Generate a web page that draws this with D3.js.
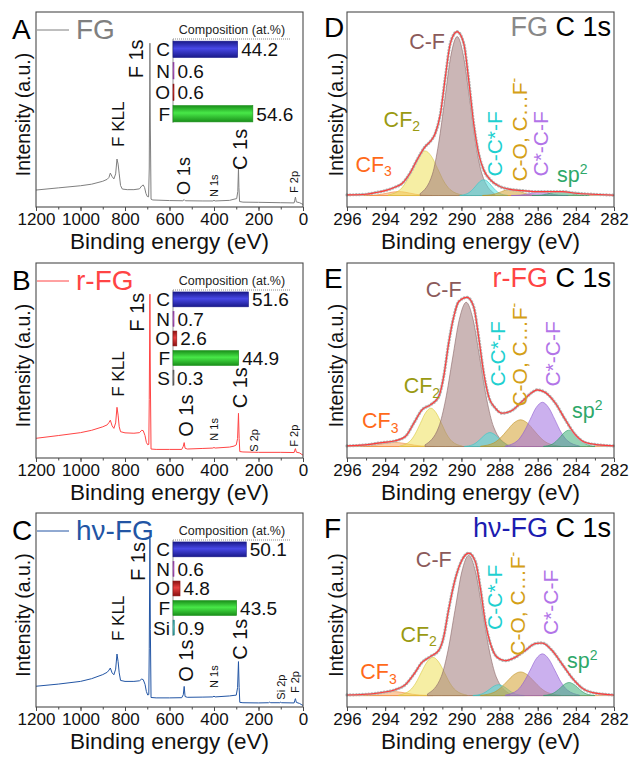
<!DOCTYPE html>
<html>
<head>
<meta charset="utf-8">
<script src="https://cdn.jsdelivr.net/npm/d3@7"></script>
<style>
  body { margin: 0; background: #fff; }
  svg { font-family: "Liberation Sans", Arial, sans-serif; }
</style>
</head>
<body>
<svg width="630" height="762"></svg>
<script>
// ---------- survey spectra: [binding energy eV, intensity a.u.] ----------
const surveyFG = [[1200,8.7],[1100,9.8],[1000,10.9],[950,11.7],[900,13.2],[880,14.2],[872,15.2],[866,17.4],[858,15.6],[850,14.4],[842,17],[836,24.6],[831,22],[826,17],[820,11],[812,9.2],[790,8.9],[760,8.9],[735,9.3],[725,10.8],[718,11.3],[712,10],[706,7],[700,5.4],[694,5.2],[691,20],[688,84],[686,40],[683,4],[675,3.6],[600,3.3],[540,3.2],[534,3.8],[529,3.2],[450,3.1],[405,3.1],[400,3.4],[395,3.1],[330,3.4],[310,4],[298,4.3],[293,8],[290,19.8],[288,10],[285,2.8],[270,2.5],[200,2.4],[100,2.2],[40,2.1],[37,3.5],[34,5.1],[30,2.6],[15,2.2],[5,1.6],[0,1.3]];
const surveyRFG = [[1200,10.1],[1100,11.5],[1000,13],[950,14.2],[900,16],[880,17],[872,18.2],[866,19.4],[858,16.5],[850,15.2],[842,18],[836,26],[831,22],[826,16],[820,13.5],[800,12.9],[760,12.7],[735,13],[725,14.2],[718,14],[710,11.5],[704,8],[698,6.8],[693,7],[691,30],[688,84],[686,40],[683,4.6],[660,4.4],[600,4.4],[545,4.4],[538,6],[534,7.9],[530,5],[520,4.6],[450,4.9],[405,5.1],[400,5.4],[395,5.1],[330,5.6],[310,6.1],[300,6.7],[294,10],[290,22.9],[287,10],[284,3.3],[270,3.1],[200,2.9],[100,2.9],[40,2.8],[37,4],[34,4.8],[30,3],[15,2.6],[5,1.8],[0,1.5]];
const surveyHvFG = [[1200,10.7],[1100,11.8],[1000,13.2],[950,14.6],[900,16.7],[880,17.9],[872,19],[866,20.1],[858,17.6],[850,16.6],[842,19.5],[836,27.3],[831,23.4],[826,17.6],[820,13.7],[800,13.2],[760,13.2],[735,13.5],[725,14.4],[718,14.1],[710,11.7],[704,8],[698,6.2],[693,6.4],[691,30],[688,87],[686,40],[683,4.9],[660,4.7],[600,4.7],[545,4.8],[538,6.3],[534,10.6],[530,5.4],[520,5],[450,5.1],[405,5.2],[400,5.6],[395,5.2],[330,5.7],[310,6],[300,6.1],[294,10],[290,23.4],[287,10],[284,2.4],[270,2.2],[200,2.1],[155,2.2],[150,2.5],[145,2.2],[104,2.2],[100,2.5],[96,2.2],[40,2.1],[37,3.4],[34,4.3],[30,2.4],[15,1.8],[5,1.1],[0,0.8]];

// ---------- composition insets (at.%) ----------
const elemFG = ["C", "N", "O", "F"];
const compFG = [44.2, 0.6, 0.6, 54.6];
const elemRFG = ["C", "N", "O", "F", "S"];
const compRFG = [51.6, 0.7, 2.6, 44.9, 0.3];
const elemHvFG = ["C", "N", "O", "F", "Si"];
const compHvFG = [50.1, 0.6, 4.8, 43.5, 0.9];

// ---------- survey peak annotations: [text, eV, intensity] ----------
const annFG = [["F KLL",805,30.8],["F 1s",719,66],["O 1s",508,6.2],["N 1s",382,5.1],["C 1s",252,19],["F 2p",22,7.2]];
const annRFG = [["F KLL",805,31.4],["F 1s",715,64.8],["O 1s",496,10.9],["N 1s",382,8.9],["C 1s",253,25.5],["S 2p",202,3.2],["F 2p",22,5.8]];
const annHvFG = [["F KLL",805,34],["F 1s",710,65],["O 1s",496,13],["N 1s",382,9.8],["C 1s",253,24.3],["Si 2p",81,3.8],["F 2p",18,7.2]];

// ---------- C 1s high resolution: envelope and fitted components ----------
const envFG = [[296,0.4],[295,0.8],[294.5,1.8],[294,3],[293.5,5],[293.1,7.5],[292.7,13.6],[292.33,21.7],[291.9,29.9],[291.63,33],[291.37,38],[291.1,50],[290.84,72.6],[290.58,92.9],[290.23,100],[289.88,92.9],[289.62,70.5],[289.36,44],[289.1,25.8],[288.83,15.6],[288.48,9.6],[288.05,5.9],[287.52,3.9],[286.82,3],[286.12,2.4],[285.42,2.4],[284.72,2.4],[284,1.4],[283.15,0.8],[282,0.2]];
const envRFG = [[296,0.4],[295.04,1],[294.16,2.4],[293.47,3.5],[292.94,6.1],[292.5,14.2],[292.07,22.4],[291.63,25.4],[291.19,30.5],[290.93,42.7],[290.67,63],[290.4,79.3],[290.14,88.5],[289.7,91],[289.36,85.4],[289.1,67],[288.83,44.7],[288.57,30.5],[288.22,23.4],[287.87,20.3],[287.35,22],[286.82,27.5],[286.3,33],[286.03,34.6],[285.6,33],[285.07,26.4],[284.55,16.3],[284.02,7.1],[283.5,2.4],[282.8,1],[282,0.4]];
const envHvFG = [[296,0.4],[295.04,0.8],[294.16,1.9],[293.47,3.6],[292.94,6.7],[292.5,13],[292.07,20.3],[291.63,23.9],[291.19,27.7],[290.93,36],[290.67,52.8],[290.32,71.7],[289.97,83.2],[289.62,87.4],[289.27,82.2],[289.0,65.4],[288.74,44.4],[288.48,31.9],[288.13,23.5],[287.7,21.4],[287.17,23.5],[286.65,27.7],[286.12,31.9],[285.77,32.3],[285.25,27.7],[284.72,19.3],[284.2,10.9],[283.67,4.6],[282.98,1.5],[282,0.4]];

// component order: CF3, CF2, C-F, C-C*-F, C-O/C...F, C*-C-F, sp2
const fitFG = [
  [[295.1,0.03],[294.5,0.32],[294.2,0.78],[293.9,1.46],[293.6,2.12],[293.3,2.4],[293.0,2.12],[292.7,1.46],[292.4,0.78],[292.1,0.32],[291.5,0.03]],
  [[293.85,0.3],[293.2,3.7],[292.88,8.8],[292.55,16.5],[292.23,24],[291.9,27.2],[291.58,24],[291.25,16.5],[290.93,8.8],[290.6,3.7],[289.95,0.3]],
  [[292.17,1.1],[291.52,13.1],[291.2,31.5],[290.87,58.9],[290.55,85.6],[290.22,97],[289.9,85.6],[289.57,58.9],[289.25,31.5],[288.92,13.1],[288.27,1.1]],
  [[290.09,0.1],[289.67,1.3],[289.46,3.1],[289.25,5.8],[289.04,8.5],[288.83,9.6],[288.62,8.5],[288.41,5.8],[288.2,3.1],[287.99,1.3],[287.57,0.1]],
  [[288.9,0.04],[288.4,0.53],[288.15,1.27],[287.9,2.37],[287.65,3.44],[287.4,3.9],[287.15,3.44],[286.9,2.37],[286.65,1.27],[286.4,0.53],[285.9,0.04]],
  [[287.4,0.02],[286.9,0.27],[286.65,0.65],[286.4,1.21],[286.15,1.76],[285.9,2],[285.65,1.76],[285.4,1.21],[285.15,0.65],[284.9,0.27],[284.4,0.02]],
  [[286.3,0.03],[285.8,0.32],[285.55,0.78],[285.3,1.46],[285.05,2.12],[284.8,2.4],[284.55,2.12],[284.3,1.46],[284.05,0.78],[283.8,0.32],[283.3,0.03]]
];
const fitRFG = [
  [[295.6,0.03],[294.9,0.34],[294.55,0.81],[294.2,1.52],[293.85,2.2],[293.5,2.5],[293.15,2.2],[292.8,1.52],[292.45,0.81],[292.1,0.34],[291.4,0.03]],
  [[293.25,0.26],[292.7,3.2],[292.43,7.6],[292.15,14.2],[291.88,20.6],[291.6,23.4],[291.33,20.6],[291.05,14.2],[290.78,7.6],[290.5,3.2],[289.95,0.26]],
  [[291.91,1],[291.19,11.9],[290.83,28.6],[290.47,53.4],[290.11,77.6],[289.75,88],[289.39,77.6],[289.03,53.4],[288.67,28.6],[288.31,11.9],[287.59,1]],
  [[289.85,0.09],[289.4,1.15],[289.18,2.76],[288.95,5.16],[288.73,7.5],[288.5,8.5],[288.28,7.5],[288.05,5.16],[287.83,2.76],[287.6,1.15],[287.15,0.09]],
  [[289.0,0.18],[288.3,2.2],[287.95,5.3],[287.6,9.9],[287.25,14.4],[286.9,16.3],[286.55,14.4],[286.2,9.9],[285.85,5.3],[285.5,2.2],[284.8,0.18]],
  [[287.7,0.3],[287.05,3.65],[286.73,8.8],[286.4,16.4],[286.08,23.8],[285.75,27],[285.43,23.8],[285.1,16.4],[284.78,8.8],[284.45,3.65],[283.8,0.3]],
  [[285.7,0.11],[285.25,1.35],[285.03,3.25],[284.8,6.07],[284.58,8.82],[284.35,10],[284.13,8.82],[283.9,6.07],[283.68,3.25],[283.45,1.35],[283.0,0.11]]
];
const fitHvFG = [
  [[295.7,0.03],[295.0,0.34],[294.65,0.81],[294.3,1.52],[293.95,2.2],[293.6,2.5],[293.25,2.2],[292.9,1.52],[292.55,0.81],[292.2,0.34],[291.5,0.03]],
  [[293.3,0.26],[292.7,3.2],[292.4,7.6],[292.1,14.3],[291.8,20.7],[291.5,23.5],[291.2,20.7],[290.9,14.3],[290.6,7.6],[290.3,3.2],[289.7,0.26]],
  [[291.78,1],[291.06,11.6],[290.7,27.9],[290.34,52.2],[289.98,75.9],[289.62,86],[289.26,75.9],[288.9,52.2],[288.54,27.9],[288.18,11.6],[287.46,1]],
  [[289.4,0.07],[288.95,0.9],[288.73,2.2],[288.5,4.1],[288.28,5.9],[288.05,6.7],[287.83,5.9],[287.6,4.1],[287.38,2.2],[287.15,0.9],[286.7,0.07]],
  [[289.0,0.16],[288.3,1.96],[287.95,4.7],[287.6,8.8],[287.25,12.8],[286.9,14.5],[286.55,12.8],[286.2,8.8],[285.85,4.7],[285.5,1.96],[284.8,0.16]],
  [[287.7,0.28],[287.05,3.46],[286.73,8.3],[286.4,15.5],[286.08,22.6],[285.75,25.6],[285.43,22.6],[285.1,15.5],[284.78,8.3],[284.45,3.46],[283.8,0.28]],
  [[285.7,0.09],[285.25,1.08],[285.03,2.6],[284.8,4.86],[284.58,7.06],[284.35,8],[284.13,7.06],[283.9,4.86],[283.68,2.6],[283.45,1.08],[283.0,0.09]]
];

// component label anchors [eV, intensity], same order as components
const annC1sFG = [[295.56,14.6],[294.08,42],[291.8,89.2],[287.87,11.6],[286.56,8.5],[285.46,11.6],[284.99,8.5]];
const annC1sRFG = [[295.21,11.2],[293.03,32.5],[290.93,91.5],[287.73,36.6],[286.56,24.4],[284.85,36.6],[284.2,17.3]];
const annC1sHvFG = [[295.3,9.9],[293.2,32.9],[291.45,79],[287.87,40.3],[286.65,24.5],[284.93,37.1],[284.46,17.2]];

// ---------- layout ----------
const svg = d3.select("svg");
const leftX = [36, 303], rightX = [347, 614];
const rows = [[12, 207], [263, 458], [513, 707]];

const compStyle = [
  { t: "CF", sub: "3", fill: "#f7a35c", line: "#f08a3c", text: "#ff6a1a", rot: false, anchor: "start" },
  { t: "CF", sub: "2", fill: "#efe05a", line: "#d8c840", text: "#9a9a12", rot: false, anchor: "start" },
  { t: "C-F", fill: "#a07a7a", line: "#8a6464", text: "#8b5a5a", rot: false, anchor: "middle" },
  { t: "C-C*-F", fill: "#50e0e0", line: "#30c8c8", text: "#1fd0d0", rot: true },
  { t: "C-O, C\u2026F", sup: "-", fill: "#d4a030", line: "#c09020", text: "#d4a017", rot: true },
  { t: "C*-C-F", fill: "#a070e0", line: "#8e5cd0", text: "#b274e8", rot: true },
  { t: "sp", sup: "2", fill: "#3cae78", line: "#2e9a66", text: "#2ea86a", rot: false, anchor: "start" }
];

const barColors = { C: ["#1a1a8a", "#4848e6"], N: ["#8a3a9a", "#c070d0"], O: ["#8a1010", "#e84040"],
  F: ["#1a8f1a", "#48e848"], S: ["#555", "#999"], Si: ["#2a8a8a", "#5cc8c8"] };

const defs = svg.append("defs");
Object.entries(barColors).forEach(([k, [dark, light]]) => {
  const g = defs.append("linearGradient").attr("id", "grad" + k)
    .attr("x1", 0).attr("x2", 0).attr("y1", 0).attr("y2", 1);
  g.append("stop").attr("offset", "0%").attr("stop-color", dark);
  g.append("stop").attr("offset", "45%").attr("stop-color", light);
  g.append("stop").attr("offset", "100%").attr("stop-color", dark);
});

function frame(xr, yr) {
  svg.append("rect").attr("x", xr[0]).attr("y", yr[0])
    .attr("width", xr[1] - xr[0]).attr("height", yr[1] - yr[0])
    .attr("fill", "none").attr("stroke", "#4a4a4a").attr("stroke-width", 1.1);
}

function xAxis(x, bottom, major, minor) {
  const gMinor = svg.append("g").attr("transform", `translate(0,${bottom})`)
    .call(d3.axisBottom(x).tickValues(minor).tickSize(2.5).tickFormat(""));
  const gMajor = svg.append("g").attr("transform", `translate(0,${bottom})`)
    .call(d3.axisBottom(x).tickValues(major).tickSize(4).tickPadding(2)
      .tickSizeOuter(0).tickFormat(d3.format("d")));
  [gMinor, gMajor].forEach(g => {
    g.select(".domain").remove();
    g.selectAll("line").attr("stroke", "#4a4a4a");
  });
  gMajor.selectAll("text").attr("font-size", 17).attr("fill", "#111")
    .attr("font-family", '"Liberation Sans", Arial, sans-serif');
  const [a, b] = x.range();
  svg.append("text").attr("x", (a + b) / 2).attr("y", bottom + 42)
    .attr("text-anchor", "middle").attr("font-size", 22.5).attr("fill", "#111")
    .text("Binding energy (eV)");
}

function yTitle(xBase, top, bottom) {
  svg.append("text")
    .attr("transform", `translate(${xBase},${(top + bottom) / 2 + 5}) rotate(-90)`)
    .attr("text-anchor", "middle").attr("font-size", 19.5).attr("fill", "#111")
    .text("Intensity (a.u.)");
}

// ---------- survey panels ----------
function drawSurvey(p) {
  const [top, bottom] = rows[p.row];
  const x = d3.scaleLinear([1200, 0], leftX);
  const y = d3.scaleLinear([0, 100], [bottom, top]);

  svg.append("path").datum(p.data)
    .attr("d", d3.line().x(d => x(d[0])).y(d => y(d[1])))
    .attr("fill", "none").attr("stroke", p.color).attr("stroke-width", 1);

  p.ann.forEach(([t, e, v]) => {
    const small = /2p|N 1s/.test(t);
    const size = small ? 11 : (t === "F KLL" ? 17 : (p.row === 0 && t === "O 1s" ? 18 : 20));
    svg.append("text")
      .attr("transform", `translate(${x(e)},${y(v)}) rotate(-90)`)
      .attr("font-size", size).attr("fill", "#111").text(t);
  });

  // inset bar chart
  const xb = d3.scaleLinear([0, 80], [173, 290]);
  const dotY = top + 27;
  svg.append("text").attr("x", 232).attr("y", top + 22).attr("text-anchor", "middle")
    .attr("font-size", 12.5).attr("fill", "#222").text("Composition (at.%)");
  svg.append("line").attr("x1", 173).attr("x2", 290).attr("y1", dotY).attr("y2", dotY)
    .attr("stroke", "#888").attr("stroke-dasharray", "1,1");
  const n = p.elems.length;
  const yb = d3.scaleBand(p.elems, [dotY, dotY + p.step * (n + 0.05)])
    .paddingInner(0.24).paddingOuter(0.1);
  svg.append("line").attr("x1", 173).attr("x2", 173)
    .attr("y1", dotY).attr("y2", yb(p.elems[n - 1]) + yb.bandwidth() + 1)
    .attr("stroke", "#999");
  p.elems.forEach((el, i) => {
    const v = p.comp[i];
    const yc = yb(el) + yb.bandwidth() / 2;
    svg.append("rect").attr("x", xb(0)).attr("y", yb(el))
      .attr("width", Math.max(xb(v) - xb(0), 1)).attr("height", yb.bandwidth())
      .attr("fill", `url(#grad${el})`).attr("stroke", barColors[el][0]).attr("stroke-width", 0.6);
    svg.append("text").attr("x", 170).attr("y", yc + 7).attr("text-anchor", "end")
      .attr("font-size", 19).attr("fill", "#111").text(el);
    svg.append("text").attr("x", xb(v) + 3.5).attr("y", yc + 7)
      .attr("font-size", 19).attr("fill", "#111").text(v.toFixed(1));
  });

  // legend + panel letter
  svg.append("line").attr("x1", 37).attr("x2", 69).attr("y1", top + 18).attr("y2", top + 18)
    .attr("stroke", p.color).attr("stroke-width", 1);
  svg.append("text").attr("x", 76).attr("y", top + 26.5).attr("font-size", 28)
    .attr("fill", p.color).text(p.name);
  svg.append("text").attr("x", 12).attr("y", top + 26.5).attr("font-size", 28)
    .attr("fill", "#000").text(p.letter);

  frame(leftX, [top, bottom]);
  xAxis(x, bottom, d3.range(0, 1201, 200), d3.range(0, 1201, 100));
  yTitle(30, top, bottom);
}

// ---------- C 1s panels ----------
function drawC1s(p) {
  const [top, bottom] = rows[p.row];
  const x = d3.scaleLinear([296, 282], rightX);
  const y = d3.scaleLinear([-7, 112], [bottom, top]);

  svg.append("line").attr("x1", rightX[0]).attr("x2", rightX[1])
    .attr("y1", y(0)).attr("y2", y(0)).attr("stroke", "#f2a86a").attr("stroke-width", 1);

  const area = d3.area().x(d => x(d[0])).y0(y(0)).y1(d => y(d[1])).curve(d3.curveMonotoneX);
  p.fit.forEach((pts, i) => {
    svg.append("path").attr("d", area(pts))
      .attr("fill", compStyle[i].fill).attr("fill-opacity", 0.55)
      .attr("stroke", compStyle[i].line).attr("stroke-width", 0.6);
  });

  const line = d3.line().x(d => x(d[0])).y(d => y(d[1])).curve(d3.curveMonotoneX);
  svg.append("path").attr("d", line(p.env)).attr("fill", "none")
    .attr("stroke", "#b4b4b4").attr("stroke-width", 3.2)
    .attr("stroke-dasharray", "0.1,3").attr("stroke-linecap", "round");
  svg.append("path").attr("d", line(p.env)).attr("fill", "none")
    .attr("stroke", "#ff3a3a").attr("stroke-width", 1.1);

  p.ann.forEach(([e, v], i) => {
    const s = compStyle[i];
    const t = svg.append("text").attr("font-size", s.rot ? 21 : 21.5).attr("fill", s.text);
    if (s.rot) t.attr("transform", `translate(${x(e)},${y(v)}) rotate(-90)`);
    else t.attr("x", x(e)).attr("y", y(v)).attr("text-anchor", s.anchor);
    t.append("tspan").text(s.t);
    if (s.sub) t.append("tspan").attr("dy", "0.32em").attr("font-size", 14).text(s.sub);
    if (s.sup) t.append("tspan").attr("dy", "-0.55em").attr("font-size", 14).text(s.sup);
  });

  const title = svg.append("text").attr("x", rightX[1] - 3).attr("y", top + 24)
    .attr("text-anchor", "end").attr("font-size", 27);
  title.append("tspan").attr("fill", p.color).text(p.name);
  title.append("tspan").attr("fill", "#000").text(" C 1s");
  svg.append("text").attr("x", 324).attr("y", top + 25).attr("font-size", 28)
    .attr("fill", "#000").text(p.letter);

  frame(rightX, [top, bottom]);
  xAxis(x, bottom, d3.range(282, 297, 2), d3.range(282, 297, 1));
  yTitle(343, top, bottom);
}

drawSurvey({ row: 0, letter: "A", name: "FG", color: "#7f7f7f", data: surveyFG, ann: annFG, elems: elemFG, comp: compFG, step: 21 });
drawSurvey({ row: 1, letter: "B", name: "r-FG", color: "#ff4444", data: surveyRFG, ann: annRFG, elems: elemRFG, comp: compRFG, step: 19.2 });
drawSurvey({ row: 2, letter: "C", name: "h\u03bd-FG", color: "#2255a4", data: surveyHvFG, ann: annHvFG, elems: elemHvFG, comp: compHvFG, step: 19.2 });

drawC1s({ row: 0, letter: "D", name: "FG", color: "#888888", env: envFG, fit: fitFG, ann: annC1sFG });
drawC1s({ row: 1, letter: "E", name: "r-FG", color: "#ff4444", env: envRFG, fit: fitRFG, ann: annC1sRFG });
drawC1s({ row: 2, letter: "F", name: "h\u03bd-FG", color: "#1c1cb0", env: envHvFG, fit: fitHvFG, ann: annC1sHvFG });
</script>
</body>
</html>
